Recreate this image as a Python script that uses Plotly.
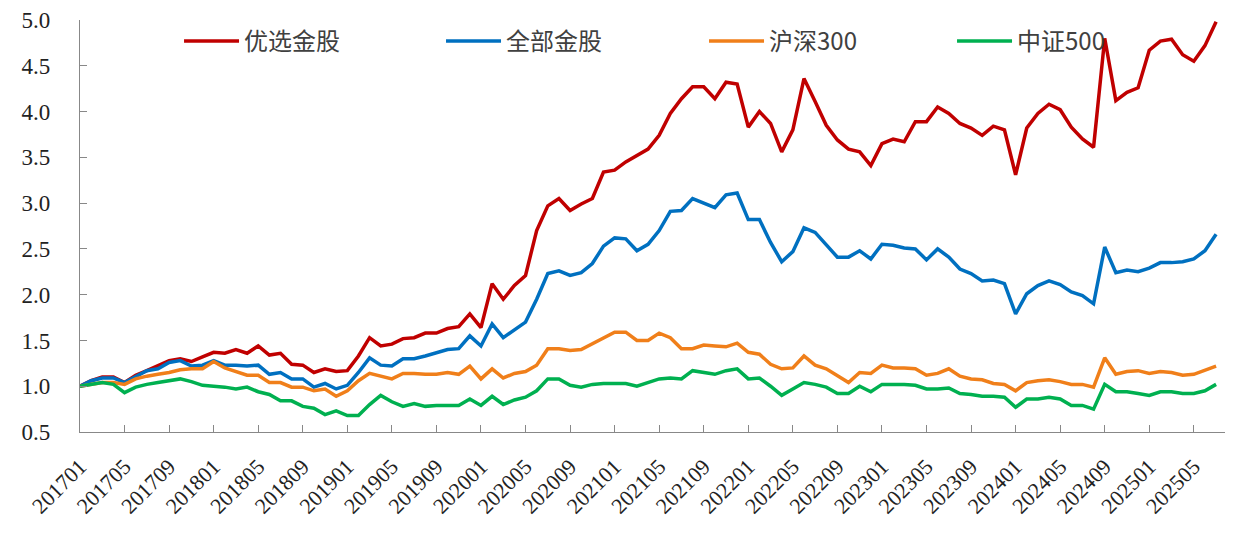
import plotly.graph_objects as go

months = []
for y in range(2017, 2026):
    for m in range(1, 13):
        months.append(f"{y}{m:02d}")
months = months[:103]  # 201701 .. 202507

tick_labels = months[0:101:4]

youxuan = [1.00, 1.06, 1.10, 1.10, 1.04, 1.12, 1.17, 1.22, 1.28, 1.30,
           1.27, 1.32, 1.37, 1.36, 1.40, 1.36, 1.44, 1.34, 1.36, 1.24,
           1.23, 1.15, 1.19, 1.16, 1.17, 1.33, 1.53, 1.44, 1.46, 1.52,
           1.53, 1.58, 1.58, 1.63, 1.65, 1.79, 1.64, 2.12, 1.95, 2.10,
           2.21, 2.70, 2.97, 3.05, 2.92, 2.99, 3.05, 3.34, 3.36, 3.45,
           3.52, 3.59, 3.74, 3.98, 4.14, 4.27, 4.27, 4.14, 4.32, 4.30,
           3.83, 4.00, 3.87, 3.56, 3.80, 4.36, 4.11, 3.85, 3.69, 3.59,
           3.56, 3.41, 3.65, 3.70, 3.67, 3.89, 3.89, 4.05, 3.98, 3.87,
           3.82, 3.74, 3.84, 3.80, 3.31, 3.82, 3.98, 4.08, 4.02, 3.83,
           3.70, 3.61, 4.80, 4.12, 4.21, 4.26, 4.67, 4.77, 4.79, 4.62,
           4.55, 4.72, 4.98]

quanbu = [1.00, 1.06, 1.09, 1.09, 1.04, 1.11, 1.17, 1.19, 1.26, 1.28,
          1.22, 1.23, 1.28, 1.23, 1.23, 1.22, 1.23, 1.13, 1.15, 1.08,
          1.08, 0.99, 1.03, 0.97, 1.01, 1.15, 1.31, 1.23, 1.22, 1.30,
          1.30, 1.33, 1.37, 1.40, 1.41, 1.55, 1.44, 1.68, 1.53, 1.62,
          1.70, 1.95, 2.23, 2.26, 2.21, 2.24, 2.34, 2.53, 2.62, 2.61,
          2.48, 2.55, 2.70, 2.91, 2.92, 3.05, 3.00, 2.95, 3.09, 3.11,
          2.82, 2.82, 2.57, 2.36, 2.47, 2.73, 2.68, 2.55, 2.41, 2.41,
          2.48, 2.39, 2.55, 2.54, 2.51, 2.50, 2.38, 2.50, 2.41, 2.28,
          2.23, 2.15, 2.16, 2.12, 1.79, 2.01, 2.10, 2.15, 2.11, 2.03,
          1.99, 1.90, 2.52, 2.24, 2.27, 2.25, 2.29, 2.35, 2.35, 2.36,
          2.39, 2.48, 2.66]

hs300 = [1.00, 1.02, 1.04, 1.04, 1.02, 1.08, 1.11, 1.13, 1.15, 1.18,
         1.19, 1.19, 1.27, 1.20, 1.16, 1.12, 1.12, 1.04, 1.04, 0.99,
         0.99, 0.95, 0.97, 0.89, 0.95, 1.06, 1.14, 1.11, 1.08, 1.14,
         1.14, 1.13, 1.13, 1.15, 1.13, 1.22, 1.08, 1.19, 1.09, 1.14,
         1.16, 1.23, 1.41, 1.41, 1.39, 1.40, 1.46, 1.53, 1.59, 1.59,
         1.50, 1.50, 1.58, 1.53, 1.41, 1.41, 1.45, 1.44, 1.43, 1.47,
         1.37, 1.35, 1.24, 1.19, 1.20, 1.33, 1.23, 1.19, 1.11, 1.04,
         1.15, 1.14, 1.23, 1.20, 1.20, 1.19, 1.12, 1.14, 1.19, 1.11,
         1.08, 1.07, 1.03, 1.02, 0.95, 1.04, 1.06, 1.07, 1.05, 1.02,
         1.02, 0.99, 1.31, 1.13, 1.16, 1.17, 1.14, 1.16, 1.15, 1.12,
         1.13, 1.17, 1.22]

zz500 = [1.00, 1.02, 1.04, 1.02, 0.93, 0.99, 1.02, 1.04, 1.06, 1.08,
         1.05, 1.01, 1.00, 0.99, 0.97, 0.99, 0.94, 0.91, 0.84, 0.84,
         0.78, 0.76, 0.69, 0.73, 0.68, 0.68, 0.80, 0.90, 0.83, 0.78,
         0.81, 0.78, 0.79, 0.79, 0.79, 0.86, 0.79, 0.89, 0.80, 0.85,
         0.88, 0.95, 1.08, 1.08, 1.01, 0.99, 1.02, 1.03, 1.03, 1.03,
         1.00, 1.04, 1.08, 1.09, 1.08, 1.17, 1.15, 1.13, 1.17, 1.19,
         1.08, 1.09, 1.00, 0.90, 0.97, 1.04, 1.02, 0.99, 0.92, 0.92,
         1.00, 0.94, 1.02, 1.02, 1.02, 1.01, 0.97, 0.97, 0.98, 0.92,
         0.91, 0.89, 0.89, 0.88, 0.77, 0.86, 0.86, 0.88, 0.86, 0.79,
         0.79, 0.75, 1.02, 0.94, 0.94, 0.92, 0.90, 0.94, 0.94, 0.92,
         0.92, 0.95, 1.02]

series = [
    ("优选金股", youxuan, "#C00000"),
    ("全部金股", quanbu, "#0070C0"),
    ("沪深300", hs300, "#F07F1A"),
    ("中证500", zz500, "#00B050"),
]
legend_ids = ["legend", "legend2", "legend3", "legend4"]
legend_x = [0.0865, 0.3153, 0.5450, 0.7616]

fig = go.Figure()
for (name, vals, color), lid in zip(series, legend_ids):
    fig.add_trace(go.Scatter(
        x=months, y=vals, mode="lines", name=name, legend=lid,
        line=dict(color=color, width=3.5),
    ))

legend_common = dict(
    orientation="h", y=0.948, xanchor="left", yanchor="middle",
    font=dict(family="Noto Sans CJK SC", size=24, color="#404040"),
    bgcolor="rgba(0,0,0,0)", itemwidth=55,
)
layout_legends = {}
for lid, lx in zip(legend_ids, legend_x):
    layout_legends[lid] = dict(x=lx, **legend_common)

fig.update_layout(
    width=1223, height=518,
    margin=dict(l=72, r=6, t=12, b=94),
    paper_bgcolor="white", plot_bgcolor="white",
    showlegend=True,
    **layout_legends,
)

fig.update_xaxes(
    type="category",
    range=[0, 102.8],
    automargin=False,
    tickmode="array", tickvals=tick_labels, ticktext=tick_labels,
    tickangle=-45,
    tickfont=dict(family="Liberation Serif", size=22, color="#222"),
    ticklabelstandoff=12,
    showgrid=False, zeroline=False,
    showline=True, linecolor="#888", linewidth=1.2,
    ticks="inside", ticklen=7, tickcolor="#888",
)
fig.update_yaxes(
    range=[0.5, 5.0], dtick=0.5, tick0=0.5, tickformat=".1f",
    automargin=False,
    ticklabeloverflow="allow",
    tickfont=dict(family="Liberation Serif", size=23, color="#222"),
    ticklabelstandoff=24,
    showgrid=False, zeroline=False,
    showline=True, linecolor="#888", linewidth=1.2,
    ticks="inside", ticklen=7, tickcolor="#888",
)

fig.write_html("out.html")
